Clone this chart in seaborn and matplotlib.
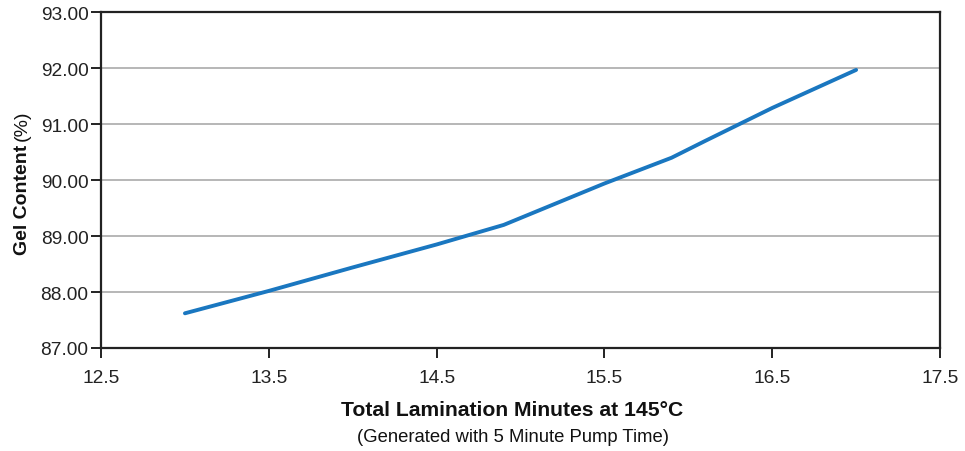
import numpy as np
import pandas as pd
import matplotlib
matplotlib.use("Agg")
import matplotlib.pyplot as plt
import seaborn as sns

# values
minutes = [13.0, 13.5, 14.0, 14.5, 14.9, 15.5, 15.9, 16.1, 16.5, 17.0]
gel_content = [87.62, 88.02, 88.44, 88.85, 89.20, 89.94, 90.40, 90.70, 91.29, 91.97]

x_ticks = [12.5, 13.5, 14.5, 15.5, 16.5, 17.5]
y_ticks = [87, 88, 89, 90, 91, 92, 93]

df = pd.DataFrame({"minutes": minutes, "gel": gel_content})

sns.set_style("white")
plt.rcParams['font.family'] = ['Liberation Sans', 'DejaVu Sans']

fig = plt.figure(figsize=(9.65, 4.52), dpi=100)
ax = fig.add_axes([0.1047, 0.2279, 0.8694, 0.7427])

sns.lineplot(data=df, x="minutes", y="gel", ax=ax, color="#1a77c0",
             linewidth=2.8, sort=False)

ax.set_xlim(12.5, 17.5)
ax.set_ylim(87, 93)
ax.set_xticks(x_ticks)
ax.set_xticklabels([f"{t:.1f}" for t in x_ticks])
ax.set_yticks(y_ticks)
ax.set_yticklabels([f"{t:.2f}" for t in y_ticks])

ax.yaxis.grid(True, color="#aaaaaa", linewidth=1.2)
ax.xaxis.grid(False)
ax.set_axisbelow(True)

for s in ax.spines.values():
    s.set_visible(True)
    s.set_color("#222222")
    s.set_linewidth(1.6)

ax.tick_params(axis="both", direction="out", length=7, width=1.4,
               color="#222222", labelsize=13.8, labelcolor="#222222",
               bottom=True, left=True)
ax.tick_params(axis="x", pad=8)
ax.tick_params(axis="y", pad=2)

ax.set_xlabel("")
ax.set_ylabel("")

# y label: bold part plus regular "(%)"
t1 = ax.text(-0.094, 0.443, "Gel Content", transform=ax.transAxes,
             rotation=90, ha="center", va="center", fontsize=14,
             fontweight="bold", color="#111111")
ax.annotate("(%)", xy=(0.5, 1.0), xycoords=t1, xytext=(0, 3),
            textcoords="offset points", rotation=90, ha="center",
            va="bottom", fontsize=14, color="#111111")

fig.text(512 / 965, 1 - 411 / 452, "Total Lamination Minutes at 145°C",
         ha="center", va="center", fontsize=15.2, fontweight="bold",
         color="#111111")
fig.text(513 / 965, 1 - 438 / 452, "(Generated with 5 Minute Pump Time)",
         ha="center", va="center", fontsize=13.3, color="#111111")

fig.savefig("out.png", dpi=100)
